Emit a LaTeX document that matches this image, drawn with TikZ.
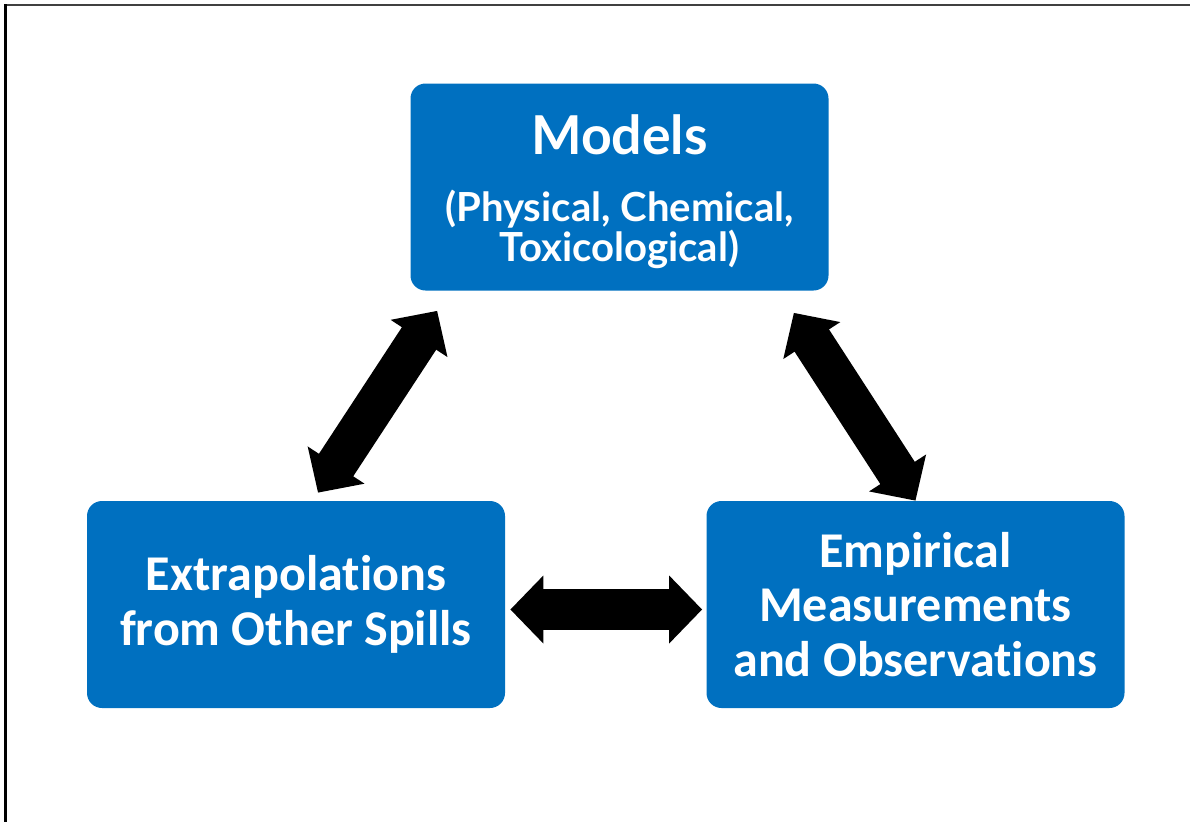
\documentclass[tikz,border=0pt]{standalone}
\usepackage{fontspec}
\setmainfont{Carlito}[Ligatures=NoCommon]
\newfontfamily\modelsfont{Lato}[Ligatures=NoCommon]
\usetikzlibrary{arrows.meta}

\definecolor{boxblue}{RGB}{0,112,192}

\tikzstyle{box} = [rectangle, rounded corners=0.3cm, minimum width=8.36cm, minimum height=4.14cm, text centered, fill=boxblue, text=white, align=center, font=\bfseries]
\tikzstyle{dblarrow} = [line width=0.82cm, {Triangle[length=0.66cm,width=1.32cm]}-{Triangle[length=0.66cm,width=1.32cm]}]

\begin{document}
\begin{tikzpicture}

\useasboundingbox (0,0) rectangle (23.8,-16.44);

% frame of the slide
\draw[black!75, line width=0.04cm] (23.8,-0.1) -- (0.12,-0.1);
\draw[black, line width=0.06cm] (0.12,-0.08) -- (0.12,-16.44);

\node (models) [box, font=\bfseries\modelsfont\fontsize{22.8}{17.8}\selectfont] at (12.39,-3.74) {{\fontsize{30.5}{30}\selectfont\rule{0pt}{1.0cm}Models}\\[19pt](Physical, Chemical,\\Toxicological)};

\node (extra) [box, font=\bfseries\fontsize{28.5}{31}\selectfont] at (5.92,-12.09) {Extrapolations\\from Other Spills};

\node (emp) [box, font=\bfseries\fontsize{28.5}{31}\selectfont] at (18.31,-12.09) {Empirical\\Measurements\\and Observations};

\draw[dblarrow] ([shift={(0.1,-0.1)}]extra.east) -- ([shift={(-0.08,-0.1)}]emp.west);

\draw[dblarrow] ([shift={(0.54,-0.4)}]models.south west) -- ([shift={(0.44,0.16)}]extra.north);

\draw[dblarrow] ([shift={(-0.7,-0.44)}]models.south east) -- (emp.north);

\end{tikzpicture}
\end{document}
